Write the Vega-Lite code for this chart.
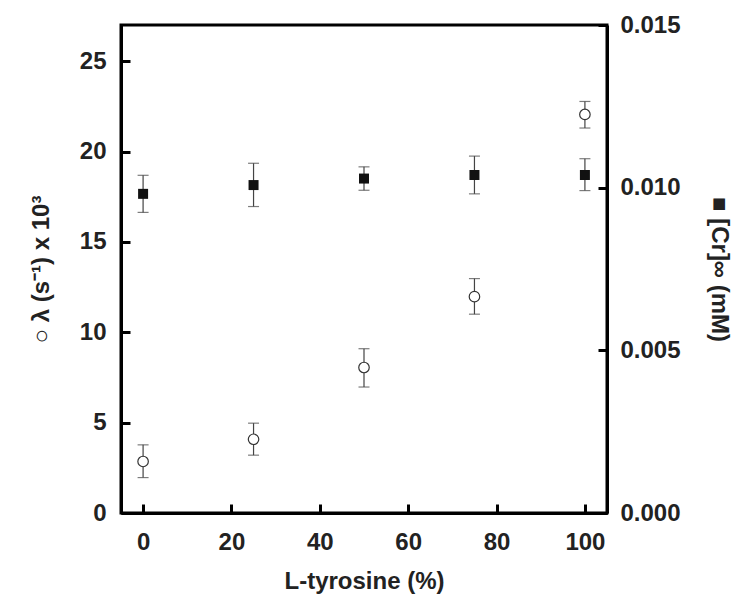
{
  "$schema": "https://vega.github.io/schema/vega-lite/v6.json",
  "width": 486,
  "height": 488,
  "autosize": {"type": "none"},
  "padding": {"left": 121, "top": 25, "right": 129, "bottom": 85},
  "background": "white",
  "config": {
    "view": {"stroke": "black", "strokeWidth": 3},
    "font": "Liberation Sans",
    "axis": {
      "labelFont": "Liberation Sans",
      "labelFontWeight": "bold",
      "labelFontSize": 24,
      "labelColor": "#222",
      "titleFont": "Liberation Sans",
      "titleFontWeight": "bold",
      "titleFontSize": 24,
      "titleColor": "#222",
      "domainColor": "black",
      "domainWidth": 3,
      "tickColor": "black",
      "tickWidth": 3,
      "tickSize": -9,
      "grid": false
    }
  },
  "data": {
    "values": [
      {"pct": 0, "lam": 2.85, "lamLo": 1.96, "lamHi": 3.77, "cr": 0.00981, "crLo": 0.00924, "crHi": 0.01038},
      {"pct": 25, "lam": 4.08, "lamLo": 3.2, "lamHi": 4.97, "cr": 0.01008, "crLo": 0.00942, "crHi": 0.01075},
      {"pct": 50, "lam": 8.05, "lamLo": 6.97, "lamHi": 9.09, "cr": 0.01028, "crLo": 0.00992, "crHi": 0.01064},
      {"pct": 75, "lam": 11.97, "lamLo": 11.0, "lamHi": 12.97, "cr": 0.01039, "crLo": 0.00981, "crHi": 0.01097},
      {"pct": 100, "lam": 22.05, "lamLo": 21.3, "lamHi": 22.77, "cr": 0.01039, "crLo": 0.00991, "crHi": 0.01089}
    ]
  },
  "encoding": {
    "x": {
      "field": "pct",
      "type": "quantitative",
      "scale": {"domain": [-5, 105], "nice": false, "zero": false},
      "axis": {"values": [0, 20, 40, 60, 80, 100], "title": "L-tyrosine (%)", "labelPadding": 26, "titlePadding": 15}
    }
  },
  "layer": [
    {
      "layer": [
        {
          "mark": {"type": "rule", "color": "#444", "strokeWidth": 1.2},
          "encoding": {
            "y": {"field": "lamLo", "type": "quantitative", "scale": {"domain": [0, 27], "nice": false},
              "axis": {"orient": "left", "values": [0, 5, 10, 15, 20, 25], "title": "○ λ (s⁻¹) x 10³", "labelPadding": 24, "titlePadding": 26}},
            "y2": {"field": "lamHi"}
          }
        },
        {
          "mark": {"type": "tick", "orient": "horizontal", "color": "#444", "size": 11, "thickness": 1.2},
          "encoding": {"y": {"field": "lamLo", "type": "quantitative"}}
        },
        {
          "mark": {"type": "tick", "orient": "horizontal", "color": "#444", "size": 11, "thickness": 1.2},
          "encoding": {"y": {"field": "lamHi", "type": "quantitative"}}
        },
        {
          "mark": {"type": "point", "shape": "circle", "filled": true, "fill": "white", "stroke": "#333", "strokeWidth": 1.2, "size": 110, "opacity": 1},
          "encoding": {"y": {"field": "lam", "type": "quantitative"}}
        }
      ]
    },
    {
      "layer": [
        {
          "mark": {"type": "rule", "color": "#444", "strokeWidth": 1.2},
          "encoding": {
            "y": {"field": "crLo", "type": "quantitative", "scale": {"domain": [0, 0.015], "nice": false},
              "axis": {"orient": "right", "values": [0, 0.005, 0.01, 0.015], "format": ".3f", "title": "■ [Cr]∞ (mM)", "labelPadding": 22, "titlePadding": 26}},
            "y2": {"field": "crHi"}
          }
        },
        {
          "mark": {"type": "tick", "orient": "horizontal", "color": "#444", "size": 11, "thickness": 1.2},
          "encoding": {"y": {"field": "crLo", "type": "quantitative"}}
        },
        {
          "mark": {"type": "tick", "orient": "horizontal", "color": "#444", "size": 11, "thickness": 1.2},
          "encoding": {"y": {"field": "crHi", "type": "quantitative"}}
        },
        {
          "mark": {"type": "point", "shape": "square", "filled": true, "color": "#111", "size": 100, "opacity": 1},
          "encoding": {"y": {"field": "cr", "type": "quantitative"}}
        }
      ]
    }
  ],
  "resolve": {"scale": {"y": "independent"}}
}
